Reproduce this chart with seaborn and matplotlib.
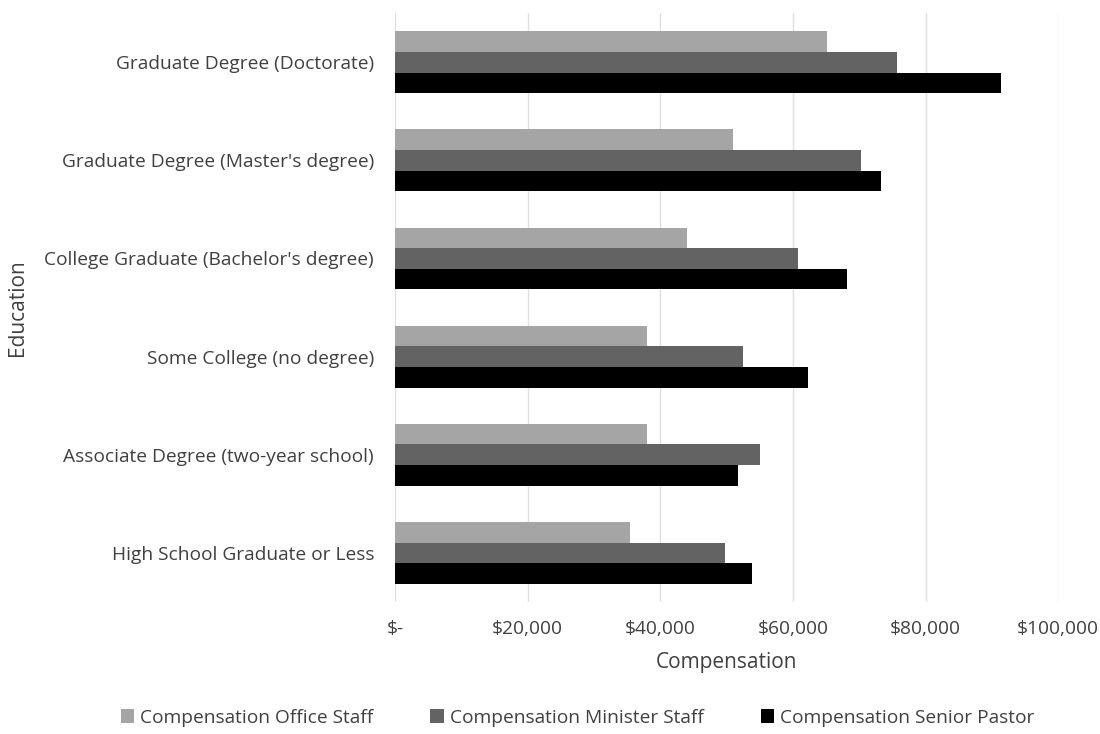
import pandas as pd
import matplotlib.pyplot as plt
from matplotlib.ticker import FuncFormatter
import seaborn as sns

# ─ Data ─────────────────────────────────────────────────────────────────────── #
education = [
    "Graduate Degree (Doctorate)",
    "Graduate Degree (Master's degree)",
    "College Graduate (Bachelor's degree)",
    "Some College (no degree)",
    "Associate Degree (two-year school)",
    "High School Graduate or Less",
]
office_staff   = [65100, 51000, 44100, 38000, 38000, 35400]
minister_staff = [75700, 70200, 60800, 52500, 55000, 49700]
senior_pastor  = [91400, 73300, 68100, 62300, 51700, 53800]
series = ["Compensation Office Staff", "Compensation Minister Staff",
          "Compensation Senior Pastor"]

GRAY_L = "#a5a5a5"
GRAY_D = "#636363"
BLACK  = "#000000"
TEXT   = "#404040"

df = pd.DataFrame({
    "Education": education * 3,
    "Series": [s for s in series for _ in education],
    "Compensation": office_staff + minister_staff + senior_pastor,
})

# ─ Plot ─────────────────────────────────────────────────────────────────────── #
sns.set_style("white")
plt.rcParams["font.family"] = ["Open Sans", "DejaVu Sans"]

fig = plt.figure(figsize=(11, 7.34), dpi=100)
ax = fig.add_axes([0.359, 0.18, 0.603, 0.802])

sns.barplot(data=df, y="Education", x="Compensation", hue="Series",
            order=education, hue_order=series,
            palette=[GRAY_L, GRAY_D, BLACK], width=0.63,
            orient="h", ax=ax, legend=True, linewidth=0)

ax.set_xlim(0, 100000)
ax.set_xticks(range(0, 100001, 20000))
ax.xaxis.set_major_formatter(FuncFormatter(
    lambda v, p: "$-" if v == 0 else f"${v:,.0f}"))
ax.grid(axis="x", color="#e0e0e0", linewidth=1)
ax.set_axisbelow(True)
for s in ax.spines.values():
    s.set_visible(False)
ax.tick_params(axis="both", length=0, labelsize=13.8, colors=TEXT)
ax.tick_params(axis="x", pad=13)
ax.tick_params(axis="y", pad=15)
ax.set_xlabel("Compensation", fontsize=15, color=TEXT, labelpad=10)
ax.set_ylabel("Education", fontsize=15, color=TEXT, labelpad=12)

handles, labels = ax.get_legend_handles_labels()
ax.get_legend().remove()
fig.legend(handles, labels, loc="center", bbox_to_anchor=(0.525, 0.022),
           ncol=3, frameon=False, fontsize=13.8, handlelength=0.7,
           handleheight=0.7, columnspacing=3.0, handletextpad=0.3,
           labelcolor=TEXT)

fig.savefig("out.png", dpi=100)
